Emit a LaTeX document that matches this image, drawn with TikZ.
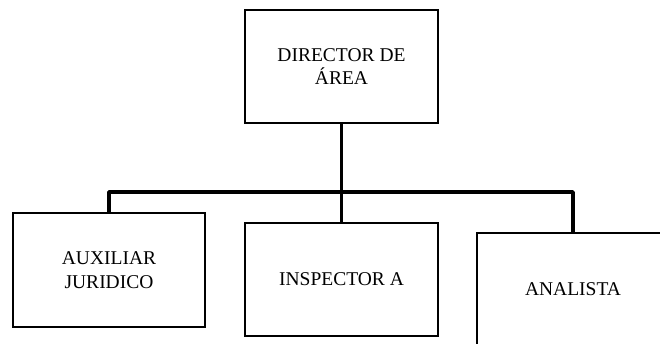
\documentclass[tikz,border=0pt]{standalone}
\usepackage{fontspec}
\setmainfont{Liberation Serif}
\begin{document}
\begin{tikzpicture}[x=1pt,y=-1pt,
  box/.style={draw=black,line width=2.2pt,fill=white,minimum width=193pt,minimum height=113pt,
    inner sep=0pt,align=center,font=\fontsize{19.5}{23.5}\selectfont},
  conn/.style={draw=black,line width=3.8pt,line join=round}]
\useasboundingbox (0,0) rectangle (660,343);
\clip (0,0) rectangle (660,343);
\node[box] (top) at (341.5,66.5) {DIRECTOR DE\\ÁREA};
\node[box,minimum width=192pt,minimum height=114pt] (left) at (109,270) {AUXILIAR\\JURIDICO};
\node[box] (mid) at (341.5,279.5) {INSPECTOR A};
\node[box,minimum width=192pt] (right) at (573,289.5) {ANALISTA};
\coordinate (j) at (341.5,192);
\draw[conn] (top.south) -- (j);
\draw[conn] (left.north) -- (left.north |- j) -- (right.north |- j) -- (right.north);
\draw[conn] (j) -- (mid.north);
\end{tikzpicture}
\end{document}
